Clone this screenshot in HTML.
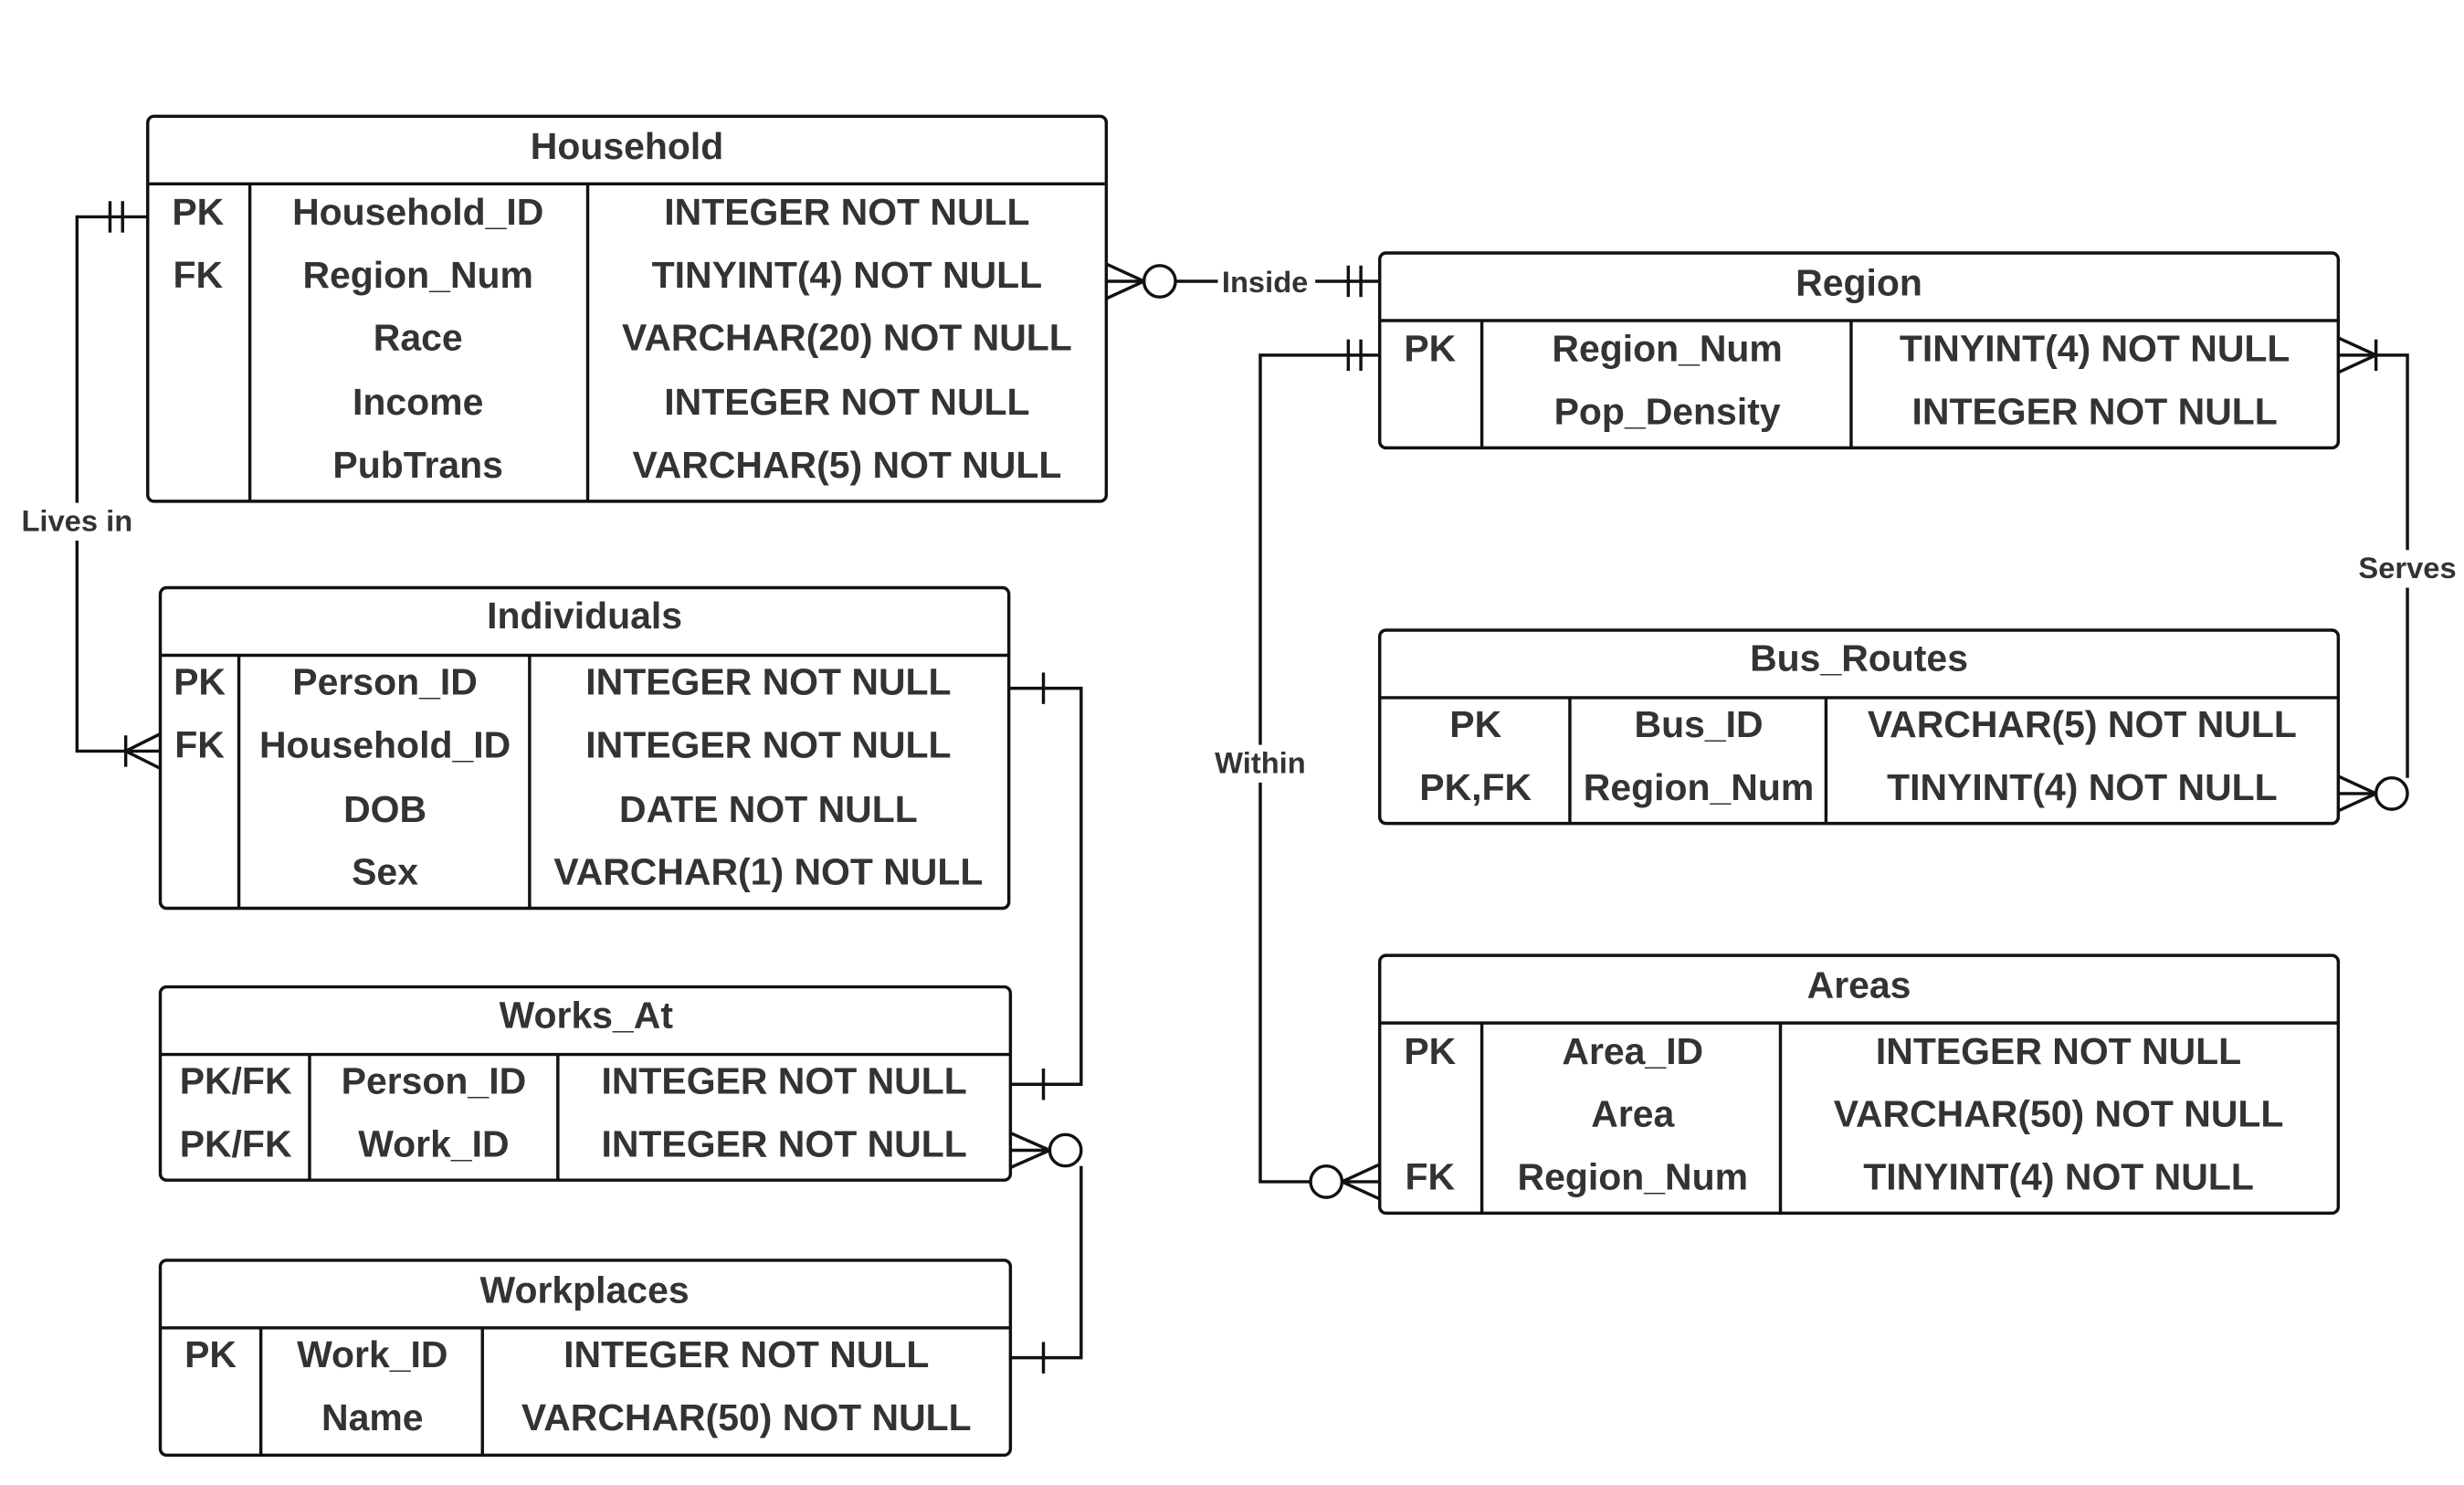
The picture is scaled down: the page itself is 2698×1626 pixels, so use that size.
<!DOCTYPE html>
<html><head><meta charset="utf-8"><style>
html,body{margin:0;padding:0;background:#fff;}
svg{display:block;}
text{font-family:"Liberation Sans",Arial,sans-serif;font-weight:bold;fill:#333;}
.t{font-size:23.8px;}
.l{font-size:19px;}
</style></head><body>
<svg width="2698" height="1626" viewBox="0 0 1568 945" preserveAspectRatio="none" xmlns="http://www.w3.org/2000/svg">
<g fill="none" stroke="#111" stroke-width="2">
<rect x="94" y="74" width="610" height="245" rx="4"/>
<line x1="94" y1="117" x2="704" y2="117"/>
<line x1="159" y1="117" x2="159" y2="319"/><line x1="374" y1="117" x2="374" y2="319"/>
<rect x="878" y="161" width="610" height="124" rx="4"/>
<line x1="878" y1="204" x2="1488" y2="204"/>
<line x1="943" y1="204" x2="943" y2="285"/><line x1="1178" y1="204" x2="1178" y2="285"/>
<rect x="102" y="374" width="540" height="204" rx="4"/>
<line x1="102" y1="417" x2="642" y2="417"/>
<line x1="152" y1="417" x2="152" y2="578"/><line x1="337" y1="417" x2="337" y2="578"/>
<rect x="102" y="628" width="541" height="123" rx="4"/>
<line x1="102" y1="671" x2="643" y2="671"/>
<line x1="197" y1="671" x2="197" y2="751"/><line x1="355" y1="671" x2="355" y2="751"/>
<rect x="102" y="802" width="541" height="124" rx="4"/>
<line x1="102" y1="845" x2="643" y2="845"/>
<line x1="166" y1="845" x2="166" y2="926"/><line x1="307" y1="845" x2="307" y2="926"/>
<rect x="878" y="401" width="610" height="123" rx="4"/>
<line x1="878" y1="444" x2="1488" y2="444"/>
<line x1="999" y1="444" x2="999" y2="524"/><line x1="1162" y1="444" x2="1162" y2="524"/>
<rect x="878" y="608" width="610" height="164" rx="4"/>
<line x1="878" y1="651" x2="1488" y2="651"/>
<line x1="943" y1="651" x2="943" y2="772"/><line x1="1133" y1="651" x2="1133" y2="772"/>

<polyline points="94,138 49,138 49,478 102,478"/>
<line x1="70" y1="128" x2="70" y2="148"/><line x1="78" y1="128" x2="78" y2="148"/>
<line x1="80" y1="468" x2="80" y2="488"/>
<line x1="80" y1="478" x2="102" y2="467"/><line x1="80" y1="478" x2="102" y2="489"/>
<line x1="704" y1="179" x2="728" y2="179"/><line x1="748" y1="179" x2="878" y2="179"/>
<line x1="704" y1="168" x2="728" y2="179"/><line x1="704" y1="190" x2="728" y2="179"/>
<circle cx="738" cy="179" r="10" fill="#fff"/>
<line x1="858" y1="169" x2="858" y2="189"/><line x1="866" y1="169" x2="866" y2="189"/>
<polyline points="878,226 802,226 802,752 834,752"/>
<line x1="854" y1="752" x2="878" y2="752"/>
<line x1="858" y1="216" x2="858" y2="236"/><line x1="866" y1="216" x2="866" y2="236"/>
<circle cx="844" cy="752" r="10" fill="#fff"/>
<line x1="854" y1="752" x2="878" y2="741"/><line x1="854" y1="752" x2="878" y2="763"/>
<polyline points="1488,226 1532,226 1532,495"/>
<line x1="1512" y1="505" x2="1488" y2="505"/>
<line x1="1512" y1="216" x2="1512" y2="236"/>
<line x1="1512" y1="226" x2="1488" y2="215"/><line x1="1512" y1="226" x2="1488" y2="237"/>
<circle cx="1522" cy="505" r="10" fill="#fff"/>
<line x1="1512" y1="505" x2="1488" y2="494"/><line x1="1512" y1="505" x2="1488" y2="516"/>
<polyline points="642,438 688,438 688,690 643,690"/>
<line x1="664" y1="428" x2="664" y2="448"/>
<line x1="664" y1="680" x2="664" y2="700"/>
<line x1="643" y1="732" x2="668" y2="732"/>
<polyline points="688,742 688,864 643,864"/>
<circle cx="678" cy="732" r="10" fill="#fff"/>
<line x1="643" y1="721" x2="668" y2="732"/><line x1="643" y1="743" x2="668" y2="732"/>
<line x1="664" y1="854" x2="664" y2="874"/>
</g>
<rect x="8" y="320" width="82" height="24" fill="#fff"/>
<text class="l" x="49" y="338" text-anchor="middle">Lives in</text>
<rect x="775" y="169" width="62" height="22" fill="#fff"/>
<text class="l" x="805" y="186" text-anchor="middle">Inside</text>
<rect x="769" y="474" width="66" height="24" fill="#fff"/>
<text class="l" x="802" y="492" text-anchor="middle">Within</text>
<rect x="1497" y="350" width="70" height="24" fill="#fff"/>
<text class="l" x="1532" y="368" text-anchor="middle">Serves</text>

<g class="t" text-anchor="middle">
<text x="399" y="101">Household</text>
<text x="126" y="143">PK</text><text x="266" y="143">Household_ID</text><text x="539" y="143">INTEGER NOT NULL</text>
<text x="126" y="183">FK</text><text x="266" y="183">Region_Num</text><text x="539" y="183">TINYINT(4) NOT NULL</text>
<text x="266" y="223">Race</text><text x="539" y="223">VARCHAR(20) NOT NULL</text>
<text x="266" y="264">Income</text><text x="539" y="264">INTEGER NOT NULL</text>
<text x="266" y="304">PubTrans</text><text x="539" y="304">VARCHAR(5) NOT NULL</text>

<text x="1183" y="188">Region</text>
<text x="910" y="230">PK</text><text x="1061" y="230">Region_Num</text><text x="1333" y="230">TINYINT(4) NOT NULL</text>
<text x="1061" y="270">Pop_Density</text><text x="1333" y="270">INTEGER NOT NULL</text>

<text x="372" y="400">Individuals</text>
<text x="127" y="442">PK</text><text x="245" y="442">Person_ID</text><text x="489" y="442">INTEGER NOT NULL</text>
<text x="127" y="482">FK</text><text x="245" y="482">Household_ID</text><text x="489" y="482">INTEGER NOT NULL</text>
<text x="245" y="523">DOB</text><text x="489" y="523">DATE NOT NULL</text>
<text x="245" y="563">Sex</text><text x="489" y="563">VARCHAR(1) NOT NULL</text>

<text x="373" y="654">Works_At</text>
<text x="150" y="696">PK/FK</text><text x="276" y="696">Person_ID</text><text x="499" y="696">INTEGER NOT NULL</text>
<text x="150" y="736">PK/FK</text><text x="276" y="736">Work_ID</text><text x="499" y="736">INTEGER NOT NULL</text>

<text x="372" y="829">Workplaces</text>
<text x="134" y="870">PK</text><text x="237" y="870">Work_ID</text><text x="475" y="870">INTEGER NOT NULL</text>
<text x="237" y="910">Name</text><text x="475" y="910">VARCHAR(50) NOT NULL</text>

<text x="1183" y="427">Bus_Routes</text>
<text x="939" y="469">PK</text><text x="1081" y="469">Bus_ID</text><text x="1325" y="469">VARCHAR(5) NOT NULL</text>
<text x="939" y="509">PK,FK</text><text x="1081" y="509">Region_Num</text><text x="1325" y="509">TINYINT(4) NOT NULL</text>

<text x="1183" y="635">Areas</text>
<text x="910" y="677">PK</text><text x="1039" y="677">Area_ID</text><text x="1310" y="677">INTEGER NOT NULL</text>
<text x="1039" y="717">Area</text><text x="1310" y="717">VARCHAR(50) NOT NULL</text>
<text x="910" y="757">FK</text><text x="1039" y="757">Region_Num</text><text x="1310" y="757">TINYINT(4) NOT NULL</text>
</g>
</svg>
</body></html>
